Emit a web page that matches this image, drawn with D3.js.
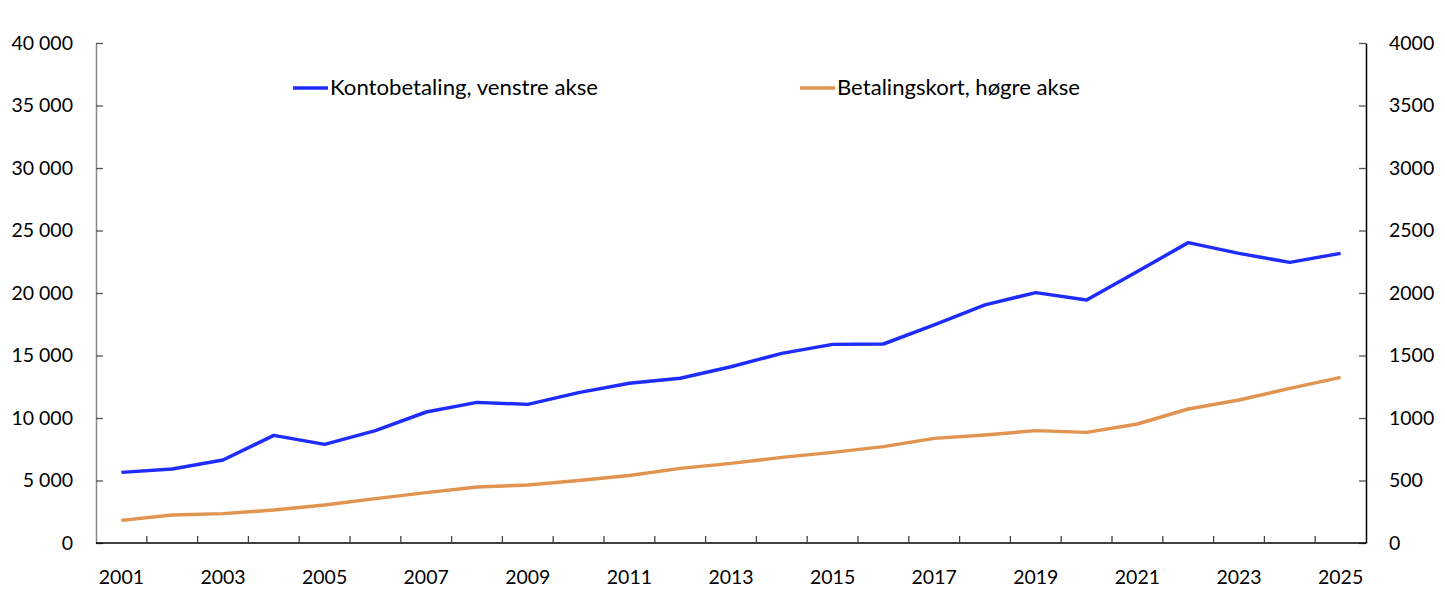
<!DOCTYPE html>
<html>
<head>
<meta charset="utf-8">
<script src="https://cdn.jsdelivr.net/npm/d3@7"></script>
<style>
  body { margin: 0; background: #fff; }
  svg text { font-family: "Lato", "Open Sans", sans-serif; fill: #000; }
</style>
</head>
<body>
<svg id="chart" width="1445" height="607"></svg>
<script>
const years = [2001,2002,2003,2004,2005,2006,2007,2008,2009,2010,2011,2012,2013,2014,2015,2016,2017,2018,2019,2020,2021,2022,2023,2024,2025];
const kontobetaling = [5650,5920,6640,8610,7890,8990,10480,11250,11090,12030,12780,13180,14100,15170,15890,15920,17450,19050,20030,19440,21720,24030,23170,22450,23170];
const betalingskort = [181,224,235,264,304,355,403,448,464,500,540,597,637,685,725,771,837,864,899,885,952,1072,1144,1237,1325];
const leftTicks = [0,5000,10000,15000,20000,25000,30000,35000,40000];
const rightTicks = [0,500,1000,1500,2000,2500,3000,3500,4000];
const xLabelYears = years.filter(y => (y - 2001) % 2 === 0);
const seriesNames = ["Kontobetaling, venstre akse", "Betalingskort, høgre akse"];
const colors = ["#1f2cff", "#e0944f"];

const svg = d3.select("#chart");
const L = 96, R = 1366, T = 43, B = 543;

const x = d3.scaleBand().domain(years).range([L, R]).padding(0);
const yL = d3.scaleLinear().domain([0, 40000]).range([B, T]);
const yR = d3.scaleLinear().domain([0, 4000]).range([B, T]);

// left axis
const gL = svg.append("g").attr("transform", `translate(${L},0)`)
  .call(d3.axisLeft(yL).tickValues(leftTicks).tickSizeInner(-7).tickSizeOuter(0).tickPadding(23)
    .tickFormat(v => d3.format(",")(v).replace(/,/g, " ")));
gL.select(".domain").attr("stroke", "#888").attr("stroke-width", 1.5);
gL.selectAll(".tick line").attr("stroke", "#555").attr("stroke-width", 1.3);
gL.selectAll("text").style("font-size", "19.5px").attr("fill", "#000");

// right axis
const gR = svg.append("g").attr("transform", `translate(${R},0)`)
  .call(d3.axisRight(yR).tickValues(rightTicks).tickSizeInner(-7).tickSizeOuter(0).tickPadding(23)
    .tickFormat(d3.format("d")));
gR.select(".domain").attr("stroke", "#000").attr("stroke-width", 1.5);
gR.selectAll(".tick line").attr("stroke", "#555").attr("stroke-width", 1.3);
gR.selectAll("text").style("font-size", "19.5px").attr("fill", "#000");

// bottom axis: ticks at category boundaries
const boundaries = years.slice(1).map(y => x(y));
const gB = svg.append("g");
gB.append("line").attr("x1", L).attr("x2", R).attr("y1", B).attr("y2", B)
  .attr("stroke", "#000").attr("stroke-width", 1.5);
gB.selectAll("line.tk").data(boundaries).enter().append("line").attr("class", "tk")
  .attr("x1", d => d).attr("x2", d => d).attr("y1", B).attr("y2", B - 7)
  .attr("stroke", "#444").attr("stroke-width", 1.3);
gB.selectAll("text").data(xLabelYears).enter().append("text")
  .attr("x", d => x(d) + x.bandwidth() / 2).attr("y", 584)
  .attr("text-anchor", "middle").style("font-size", "19.5px").text(d => d);

// lines
const cx = d => x(d) + x.bandwidth() / 2;
const lineL = d3.line().x((d, i) => cx(years[i])).y(d => yL(d));
const lineR = d3.line().x((d, i) => cx(years[i])).y(d => yR(d));
svg.append("path").datum(kontobetaling).attr("d", lineL).attr("fill", "none")
  .attr("stroke", colors[0]).attr("stroke-width", 3.5).attr("stroke-linejoin", "round");
svg.append("path").datum(betalingskort).attr("d", lineR).attr("fill", "none")
  .attr("stroke", colors[1]).attr("stroke-width", 3.5).attr("stroke-linejoin", "round");

// legend
const legendPos = [{x: 293, y: 88, w: 268}, {x: 800, y: 88, w: 243}];
seriesNames.forEach((name, i) => {
  const p = legendPos[i];
  svg.append("line").attr("x1", p.x).attr("x2", p.x + 35).attr("y1", p.y).attr("y2", p.y)
    .attr("stroke", colors[i]).attr("stroke-width", 3.5);
  svg.append("text").attr("x", p.x + 37).attr("y", p.y + 7).style("font-size", "21px")
    .attr("textLength", p.w).attr("lengthAdjust", "spacingAndGlyphs").text(name);
});
</script>
</body>
</html>
